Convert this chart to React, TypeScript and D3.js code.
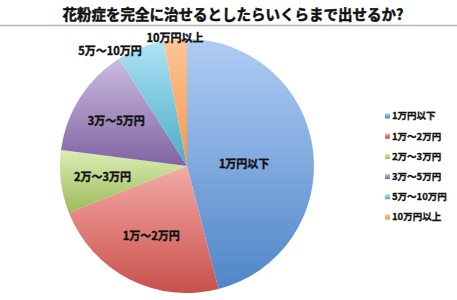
import React from "react";
import * as d3 from "d3";

// Survey: how much would you pay to completely cure hay fever?
const title = "花粉症を完全に治せるとしたらいくらまで出せるか?";
const categories = ["1万円以下", "1万～2万円", "2万～3万円", "3万～5万円", "5万～10万円", "10万円以上"];
const values = [46, 23, 8, 14, 6, 3];
const baseColors = ["#4f86c8", "#c9504b", "#9bbb59", "#8064a2", "#4bacc6", "#f79646"];
const lightColors = ["#b0ccf4", "#f4aaa6", "#dcedb6", "#cbbbe0", "#aee3f6", "#fcc699"];
// label radius as fraction of the pie radius, and text anchoring
const labelRadius = [0.45, 0.62, 0.67, 0.66, 0.97, 1.01];
const labelAnchor = ["middle", "middle", "middle", "middle", "end", "middle"];

const W = 457;
const H = 300;
const cx = 187;
const cy = 166;
const R = 127;
const FONT = "'Noto Sans CJK JP', 'Noto Sans', sans-serif";

export default function App() {
  const pie = d3.pie<number>().sort(null).value((d) => d);
  const arcs = pie(values);
  const arcGen = d3.arc<d3.PieArcDatum<number>>().innerRadius(0).outerRadius(R);

  const legendY = d3.scalePoint<string>().domain(categories).range([116, 217]);

  return (
    <svg width={W} height={H} style={{ position: "absolute", left: 0, top: 0 }}>
      <defs>
        {baseColors.map((c, i) => (
          <linearGradient key={i} id={`g${i}`} x1="0" y1="0" x2="0" y2="1">
            <stop offset="0" stopColor={lightColors[i]} />
            <stop offset="1" stopColor={c} />
          </linearGradient>
        ))}
      </defs>
      <rect width={W} height={H} fill="#ffffff" />
      <text
        x={233}
        y={20}
        textAnchor="middle"
        fontFamily={FONT}
        fontWeight="bold"
        fontSize={14.5}
        fill="#111"
        stroke="#111"
        strokeWidth={0.5}
      >
        {title}
      </text>
      <line x1={0} x2={W} y1={25.5} y2={25.5} stroke="#b4b4b4" strokeWidth={1.5} />

      <g transform={`translate(${cx},${cy})`}>
        {arcs.map((a, i) => (
          <path key={i} d={arcGen(a) || ""} fill={`url(#g${i})`} />
        ))}
        {arcs.map((a, i) => {
          const mid = (a.startAngle + a.endAngle) / 2 + (i === 0 ? 0.1 : 0);
          const r = R * labelRadius[i];
          const x = Math.sin(mid) * r;
          const y = -Math.cos(mid) * r;
          return (
            <text
              key={i}
              x={x}
              y={y}
              dy="0.35em"
              textAnchor={labelAnchor[i]}
              fontFamily={FONT}
              fontWeight="bold"
              fontSize={11}
              fill="#111"
              stroke="#111"
              strokeWidth={0.4}
            >
              {categories[i]}
            </text>
          );
        })}
      </g>

      <g>
        {categories.map((c, i) => (
          <g key={c} transform={`translate(385,${legendY(c)})`}>
            <rect x={0} y={-2.5} width={5} height={5} fill={`url(#g${i})`} />
            <text
              x={7}
              y={0}
              dy="0.35em"
              fontFamily={FONT}
              fontWeight="bold"
              fontSize={9.5}
              fill="#111"
              stroke="#111"
              strokeWidth={0.3}
            >
              {c}
            </text>
          </g>
        ))}
      </g>
    </svg>
  );
}
